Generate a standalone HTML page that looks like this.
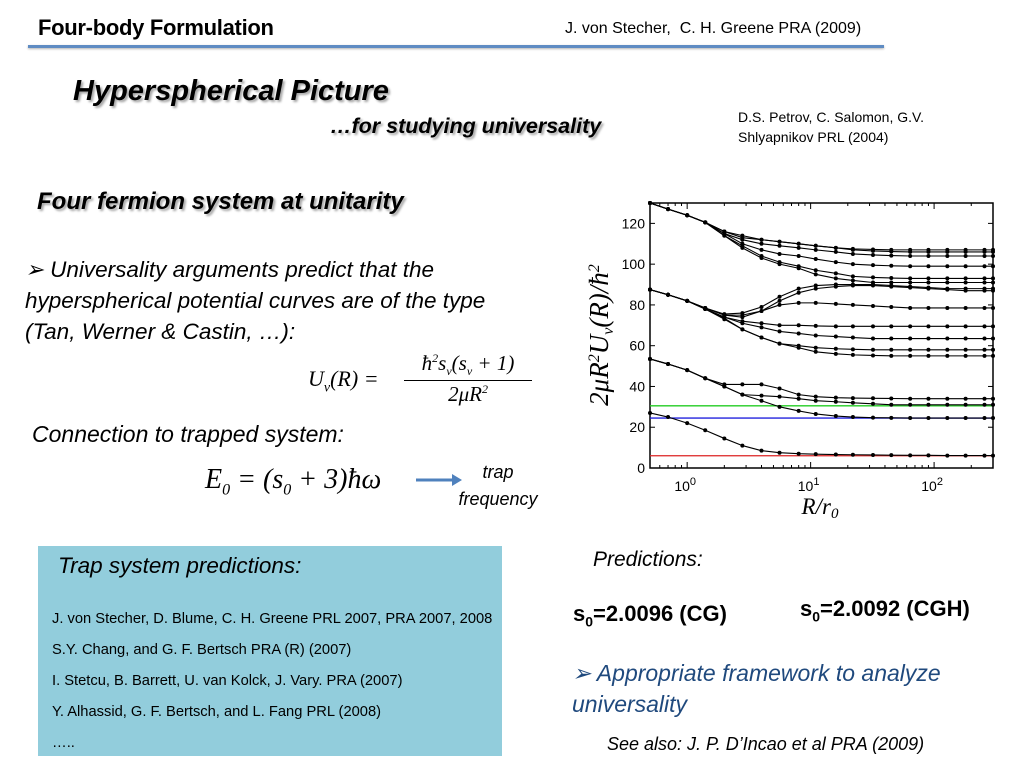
<!DOCTYPE html>
<html><head><meta charset="utf-8"><style>
body{margin:0;width:1024px;height:768px;background:#fff;position:relative;overflow:hidden;font-family:"Liberation Sans",sans-serif;color:#000}
.t{position:absolute;white-space:nowrap;line-height:1}
.sh{text-shadow:2px 2px 2px rgba(0,0,0,0.35)}
.serif{font-family:"Liberation Serif",serif}
</style></head><body>
<div class="t" style="left:38px;top:17px;font-size:22px;font-weight:bold;letter-spacing:-0.3px">Four-body Formulation</div>
<div class="t" style="left:565px;top:21px;font-size:16px">J. von Stecher,&nbsp; C. H. Greene PRA (2009)</div>
<div style="position:absolute;left:28px;top:45px;width:856px;height:3px;background:#5f8cc3;box-shadow:0 1px 2px rgba(0,0,0,0.3)"></div>
<div class="t sh" style="left:73px;top:77px;font-size:29px;font-weight:bold;font-style:italic">Hyperspherical Picture</div>
<div class="t sh" style="left:330px;top:116px;font-size:21.5px;font-weight:bold;font-style:italic">…for studying universality</div>
<div class="t" style="left:738px;top:107px;font-size:14px;line-height:20px">D.S. Petrov, C. Salomon, G.V.<br>Shlyapnikov PRL (2004)</div>
<div class="t sh" style="left:37px;top:190px;font-size:24px;font-weight:bold;font-style:italic">Four fermion system at unitarity</div>
<div class="t" style="left:25px;top:254px;font-size:22.5px;font-style:italic;line-height:31px">➢ Universality arguments predict that the<br>hyperspherical potential curves are of the type<br>(Tan, Werner &amp; Castin, …):</div>
<div class="t serif" style="left:308px;top:368px;font-size:22px;font-style:italic">U<sub style="font-size:14px">ν</sub>(R) =</div>
<div class="t serif" style="left:404px;top:352px;font-size:21px;font-style:italic;text-align:center;width:128px">ħ<sup style="font-size:12px">2</sup>s<sub style="font-size:12px">ν</sub>(s<sub style="font-size:12px">ν</sub> + 1)<div style="border-top:1px solid #000;margin:3px 0 2px"></div>2μR<sup style="font-size:12px">2</sup></div>
<div class="t" style="left:32px;top:423px;font-size:23px;font-style:italic">Connection to trapped system:</div>
<div class="t serif" style="left:205px;top:466px;font-size:28px;font-style:italic">E<sub style="font-size:16px">0</sub> = (s<sub style="font-size:16px">0</sub> + 3)ħω</div>
<svg style="position:absolute;left:414px;top:472px" width="50" height="16"><line x1="2" y1="8" x2="40" y2="8" stroke="#4f81bd" stroke-width="3"/><polygon points="38,2 48,8 38,14" fill="#4f81bd"/></svg>
<div class="t" style="left:448px;top:459px;width:100px;text-align:center;font-size:18px;font-style:italic;line-height:27px">trap<br>frequency</div>
<div style="position:absolute;left:38px;top:546px;width:464px;height:210px;background:#92cddc"></div>
<div class="t" style="left:58px;top:555px;font-size:22.5px;font-style:italic">Trap system predictions:</div>
<div class="t" style="left:52px;top:604px;font-size:14.7px;line-height:31px">J. von Stecher, D. Blume, C. H. Greene PRL 2007, PRA 2007, 2008<br>S.Y. Chang, and G. F. Bertsch PRA (R) (2007)<br>I. Stetcu, B. Barrett, U. van Kolck, J. Vary. PRA (2007)<br>Y. Alhassid, G. F. Bertsch, and L. Fang PRL (2008)<br>…..</div>
<div class="t" style="left:593px;top:549px;font-size:21px;font-style:italic">Predictions:</div>
<div class="t" style="left:573px;top:603px;font-size:22px;font-weight:bold">s<sub style="font-size:14px">0</sub>=2.0096 (CG)</div>
<div class="t" style="left:800px;top:598px;font-size:22px;font-weight:bold">s<sub style="font-size:14px">0</sub>=2.0092 (CGH)</div>
<div class="t" style="left:572px;top:658px;font-size:23px;font-style:italic;color:#1f497d;line-height:31px">➢ Appropriate framework to analyze<br>universality</div>
<div class="t" style="left:607px;top:735px;font-size:18px;font-style:italic">See also: J. P. D’Incao et al PRA (2009)</div>

<svg id="chart" style="position:absolute;left:0;top:0" width="1024" height="768"></svg>
<script>
const rVals=[0.5,0.7,1,1.4,2,2.8,4,5.6,8,11,16,22,32,45,64,90,128,180,256,300];
const curveA=[27,25,22,18.5,14.5,11,8.5,7.5,7,6.8,6.6,6.5,6.4,6.3,6.2,6.2,6.1,6.1,6.1,6.1];
const curveB1=[53.5,51,48,44,41,41,41,39,36,35,34.5,34.3,34.2,34.1,34,34,34,34,34,34];
const curveB2=[53.5,51,48,44,40,36,35.5,35,34,33,32.5,32,31.5,31,31,31,31,31,31,31];
const curveB3=[53.5,51,48,44,40,36,33,30,28,26.5,25.5,25,24.7,24.6,24.5,24.5,24.5,24.5,24.5,24.5];
const curveC1=[87.5,85,82,78.5,75.5,76,79,84,88,89.5,90,90,90,89.5,89,88.5,88,88,88,88];
const curveC2=[87.5,85,82,78.5,75,75,77,82,86,88,89,89.5,89.5,89,88.5,88,87.5,87,87,87];
const curveC3=[87.5,85,82,78.5,75,74,77,80,81,81,80.5,80,79.5,79,78.5,78.5,78.5,78.5,78.5,78.5];
const curveC4=[87.5,85,82,78,74,72,71,70,70,69.7,69.5,69.5,69.5,69.5,69.5,69.5,69.5,69.5,69.5,69.5];
const curveC5=[87.5,85,82,78,74,71,69,67,66,65,64.5,64,63.5,63.5,63.5,63.5,63.5,63.5,63.5,63.5];
const curveC6=[87.5,85,82,78,73.5,68,64,61,60,59,58.5,58.2,58,58,58,58,58,58,58,58];
const curveC7=[87.5,85,82,78,73,68,64,61,59,57,56,55.5,55.2,55,55,55,55,55,55,55];
const curveD1=[130,127,124,120.5,116,114,112,111,110,109,108,107.5,107.2,107,107,107,107,107,107,107];
const curveD2=[130,127,124,120.5,116,113,112,111,110,109,108,107,106.5,106.2,106,106,106,106,106,106];
const curveD3=[130,127,124,120.5,115,112,110,109,108,107,106,105,104.5,104.2,104,104,104,104,104,104];
const curveD4=[130,127,124,120.5,115,110,107,105,104,102.5,101,100,99.5,99.2,99,99,99,99,99,99];
const curveD5=[130,127,124,120.5,114,109,104,101,99,97,95.5,94,93.5,93.2,93,93,93,93,93,93];
const curveD6=[130,127,124,120.5,114,108,103,100,98,95,93,92,91,91,91,91,91,91,91,91];
const curves=[curveA,curveB1,curveB2,curveB3,curveC1,curveC2,curveC3,curveC4,curveC5,curveC6,curveC7,curveD1,curveD2,curveD3,curveD4,curveD5,curveD6];
const refLevels=[30.5,24.5,6];
const refColors=['#22cc22','#2222dd','#dd2222'];
const yTicks=[0,20,40,60,80,100,120];
const xTickExp=[0,1,2];
const X0=650,X1=993,Y0=468,Y1=203,xmin=0.5,xmax=300,ymax=130;
const lmin=Math.log10(xmin),lmax=Math.log10(xmax);
const sx=v=>X0+(Math.log10(v)-lmin)/(lmax-lmin)*(X1-X0);
const sy=v=>Y0-v/ymax*(Y0-Y1);
const NS='http://www.w3.org/2000/svg';
const svg=document.getElementById('chart');
function mk(t,a,p){const e=document.createElementNS(NS,t);for(const k in a)e.setAttribute(k,a[k]);(p||svg).appendChild(e);return e;}
const frame=mk('rect',{x:X0,y:Y1,width:X1-X0,height:Y0-Y1,fill:'none',stroke:'#000','stroke-width':1.5});


refLevels.forEach((v,i)=>{const l=mk('line',{x1:X0,x2:X1,y1:sy(v),y2:sy(v),stroke:refColors[i],'stroke-width':1.3});

});
curves.forEach(c=>{const g=mk('g',{});


mk('polyline',{points:c.map((v,i)=>sx(rVals[i])+','+sy(v)).join(' '),fill:'none',stroke:'#000','stroke-width':1.1},g);
c.forEach((v,i)=>{const d=mk('circle',{cx:sx(rVals[i]),cy:sy(v),r:2,fill:'#000'},g);

});});
yTicks.forEach(v=>{mk('line',{x1:X0,x2:X0+5,y1:sy(v),y2:sy(v),stroke:'#000'});mk('line',{x1:X1,x2:X1-5,y1:sy(v),y2:sy(v),stroke:'#000'});
const t=mk('text',{x:X0-5,y:sy(v)+5,'text-anchor':'end','font-size':14,'font-family':'Liberation Sans'});t.textContent=v;

});
xTickExp.forEach(e=>{const x=sx(Math.pow(10,e));mk('line',{x1:x,x2:x,y1:Y0,y2:Y0-6,stroke:'#000'});mk('line',{x1:x,x2:x,y1:Y1,y2:Y1+6,stroke:'#000'});
for(let m=2;m<10;m++){const v=m*Math.pow(10,e);if(v<=xmax){const xm=sx(v);mk('line',{x1:xm,x2:xm,y1:Y0,y2:Y0-3,stroke:'#000'});mk('line',{x1:xm,x2:xm,y1:Y1,y2:Y1+3,stroke:'#000'});}}
const t=mk('text',{x:x-2,y:Y0+23,'text-anchor':'middle','font-size':14,'font-family':'Liberation Sans'});t.innerHTML='10<tspan dy="-6" font-size="11">'+e+'</tspan>';

});
[0.6,0.7,0.8,0.9].forEach(v=>{const xm=sx(v);mk('line',{x1:xm,x2:xm,y1:Y0,y2:Y0-3,stroke:'#000'});mk('line',{x1:xm,x2:xm,y1:Y1,y2:Y1+3,stroke:'#000'});});
const xt=mk('text',{x:820,y:514,'text-anchor':'middle','font-size':23,'font-style':'italic','font-family':'Liberation Serif'});xt.innerHTML='R/r<tspan dy="4" font-size="15">0</tspan>';


const yt=mk('text',{x:0,y:0,'text-anchor':'middle','font-size':27,'font-style':'italic','font-family':'Liberation Serif',transform:'translate(608,335) rotate(-90)'});yt.innerHTML='2μR<tspan dy="-9" font-size="16">2</tspan><tspan dy="9">U</tspan><tspan dy="5" font-size="16">ν</tspan><tspan dy="-5">(R)/ħ</tspan><tspan dy="-9" font-size="16">2</tspan>';


</script>
</body></html>
